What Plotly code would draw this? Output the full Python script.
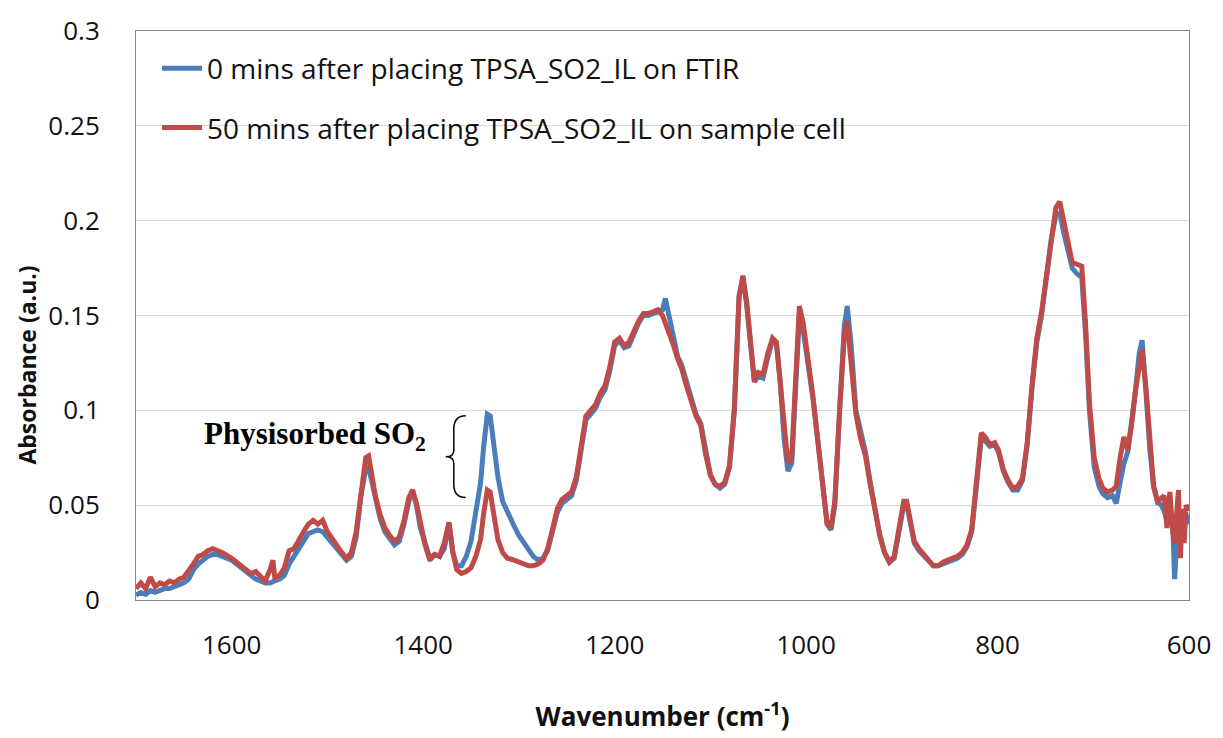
import plotly.graph_objects as go

wavenumber = [1700, 1695, 1690, 1685, 1680, 1675, 1670, 1665, 1660, 1655, 1650, 1645, 1640, 1635, 1630, 1625,
              1620, 1615, 1610, 1600, 1590, 1580, 1575, 1570, 1565, 1560, 1557, 1555, 1550, 1545, 1540, 1535,
              1530, 1525, 1520, 1515, 1510, 1505, 1500, 1495, 1490, 1485, 1480, 1475, 1470, 1465, 1460, 1457,
              1453, 1450, 1445, 1440, 1435, 1430, 1425, 1420, 1415, 1411, 1407, 1403, 1398, 1393, 1388, 1383,
              1378, 1373, 1369, 1365, 1360, 1355, 1350, 1345, 1340, 1337, 1333, 1330, 1327, 1322, 1317, 1312,
              1305, 1300, 1295, 1290, 1285, 1280, 1275, 1270, 1265, 1260, 1255, 1250, 1245, 1240, 1235, 1230,
              1225, 1220, 1215, 1210, 1205, 1200, 1195, 1190, 1185, 1180, 1175, 1170, 1165, 1160, 1155, 1150,
              1147, 1143, 1139, 1134, 1130, 1125, 1120, 1115, 1110, 1105, 1100, 1095, 1090, 1085, 1080, 1075,
              1070, 1066, 1062, 1058, 1054, 1050, 1045, 1040, 1035, 1031, 1027, 1023, 1019, 1015, 1011, 1007,
              1003, 998, 993, 988, 983, 978, 974, 970, 965, 960, 957, 953, 948, 943, 938, 933,
              928, 923, 918, 913, 908, 903, 898, 895, 891, 887, 882, 877, 872, 867, 862, 857,
              852, 847, 842, 837, 832, 827, 822, 817, 813, 808, 803, 799, 794, 789, 784, 779,
              774, 769, 764, 759, 754, 749, 744, 739, 735, 731, 726, 722, 717, 712, 708, 704,
              699, 694, 690, 685, 680, 676, 672, 668, 664, 660, 656, 652, 649, 645, 641, 637,
              633, 629, 626, 623, 620, 617, 615, 613, 611, 609, 607, 605, 603, 600]

absorbance_0min = [0.0026, 0.004, 0.003, 0.005, 0.004, 0.005, 0.006, 0.006, 0.007, 0.008, 0.009, 0.011, 0.016, 0.019, 0.021, 0.023,
                   0.024, 0.024, 0.023, 0.021, 0.017, 0.013, 0.011, 0.010, 0.009, 0.009, 0.010, 0.010, 0.011, 0.013, 0.019, 0.023,
                   0.027, 0.031, 0.035, 0.036, 0.037, 0.036, 0.033, 0.030, 0.026, 0.023, 0.021, 0.023, 0.033, 0.055, 0.069, 0.070,
                   0.060, 0.053, 0.043, 0.036, 0.032, 0.029, 0.031, 0.040, 0.052, 0.057, 0.050, 0.038, 0.030, 0.022, 0.024, 0.023,
                   0.027, 0.040, 0.025, 0.018, 0.018, 0.023, 0.031, 0.045, 0.062, 0.080, 0.098, 0.097, 0.085, 0.065, 0.052, 0.046,
                   0.039, 0.034, 0.030, 0.026, 0.023, 0.021, 0.022, 0.026, 0.035, 0.046, 0.051, 0.053, 0.055, 0.063, 0.080, 0.095,
                   0.098, 0.101, 0.107, 0.111, 0.121, 0.134, 0.137, 0.133, 0.134, 0.140, 0.146, 0.150, 0.150, 0.151, 0.152, 0.153,
                   0.159, 0.150, 0.138, 0.128, 0.124, 0.115, 0.105, 0.098, 0.093, 0.078, 0.066, 0.061, 0.059, 0.061, 0.070, 0.100,
                   0.160, 0.170, 0.155, 0.135, 0.115, 0.118, 0.117, 0.128, 0.137, 0.135, 0.115, 0.085, 0.068, 0.072, 0.115, 0.150,
                   0.142, 0.125, 0.107, 0.085, 0.060, 0.040, 0.037, 0.050, 0.100, 0.145, 0.155, 0.135, 0.100, 0.088, 0.078, 0.062,
                   0.047, 0.034, 0.025, 0.020, 0.022, 0.035, 0.050, 0.051, 0.040, 0.030, 0.026, 0.023, 0.020, 0.018, 0.018, 0.019,
                   0.020, 0.021, 0.022, 0.024, 0.028, 0.036, 0.060, 0.085, 0.084, 0.081, 0.082, 0.078, 0.068, 0.062, 0.058, 0.058,
                   0.063, 0.082, 0.112, 0.136, 0.150, 0.170, 0.190, 0.203, 0.204, 0.194, 0.183, 0.175, 0.172, 0.170, 0.140, 0.100,
                   0.070, 0.060, 0.056, 0.054, 0.055, 0.051, 0.062, 0.072, 0.078, 0.092, 0.110, 0.130, 0.137, 0.110, 0.080, 0.060,
                   0.052, 0.050, 0.047, 0.042, 0.048, 0.040, 0.011, 0.030, 0.040, 0.030, 0.045, 0.038, 0.045, 0.040]

absorbance_50min = [0.006, 0.009, 0.006, 0.012, 0.007, 0.009, 0.008, 0.010, 0.009, 0.011, 0.012, 0.015, 0.019, 0.023, 0.024, 0.026,
                    0.027, 0.026, 0.025, 0.022, 0.018, 0.014, 0.015, 0.012, 0.010, 0.016, 0.021, 0.012, 0.013, 0.017, 0.026, 0.027,
                    0.032, 0.036, 0.040, 0.042, 0.040, 0.042, 0.036, 0.032, 0.028, 0.025, 0.022, 0.025, 0.036, 0.058, 0.075, 0.076,
                    0.063, 0.055, 0.045, 0.038, 0.034, 0.031, 0.033, 0.042, 0.054, 0.058, 0.051, 0.040, 0.029, 0.021, 0.024, 0.023,
                    0.030, 0.041, 0.025, 0.016, 0.014, 0.015, 0.017, 0.023, 0.032, 0.045, 0.058, 0.057, 0.047, 0.032, 0.025, 0.022,
                    0.021, 0.020, 0.019, 0.018, 0.018, 0.019, 0.021, 0.027, 0.037, 0.048, 0.053, 0.055, 0.057, 0.065, 0.083, 0.097,
                    0.100, 0.103, 0.109, 0.113, 0.123, 0.136, 0.138, 0.134, 0.136, 0.142, 0.147, 0.151, 0.151, 0.152, 0.153, 0.150,
                    0.146, 0.141, 0.135, 0.127, 0.122, 0.113, 0.104, 0.097, 0.092, 0.077, 0.066, 0.061, 0.060, 0.062, 0.071, 0.100,
                    0.160, 0.171, 0.157, 0.136, 0.115, 0.120, 0.119, 0.130, 0.138, 0.136, 0.115, 0.088, 0.072, 0.075, 0.120, 0.155,
                    0.146, 0.128, 0.108, 0.085, 0.060, 0.040, 0.038, 0.052, 0.100, 0.140, 0.147, 0.125, 0.098, 0.085, 0.076, 0.061,
                    0.046, 0.034, 0.025, 0.020, 0.023, 0.037, 0.052, 0.052, 0.042, 0.031, 0.027, 0.024, 0.020, 0.018, 0.018, 0.020,
                    0.021, 0.022, 0.023, 0.025, 0.029, 0.037, 0.062, 0.088, 0.086, 0.082, 0.083, 0.079, 0.069, 0.063, 0.059, 0.060,
                    0.064, 0.083, 0.113, 0.138, 0.152, 0.171, 0.192, 0.207, 0.210, 0.200, 0.188, 0.178, 0.177, 0.176, 0.145, 0.104,
                    0.075, 0.064, 0.059, 0.057, 0.058, 0.060, 0.075, 0.086, 0.079, 0.092, 0.110, 0.125, 0.132, 0.112, 0.085, 0.060,
                    0.052, 0.054, 0.055, 0.038, 0.057, 0.036, 0.030, 0.045, 0.058, 0.022, 0.048, 0.030, 0.050, 0.047]

series_names = ["0 mins after placing TPSA_SO2_IL on FTIR",
                "50 mins after placing TPSA_SO2_IL on sample cell"]
series_colors = ["#4A7EBB", "#BE4B48"]
x_ticks = [1600, 1400, 1200, 1000, 800, 600]
y_ticks = [0, 0.05, 0.1, 0.15, 0.2, 0.25, 0.3]
y_tick_text = ["0", "0.05", "0.1", "0.15", "0.2", "0.25", "0.3"]

FONT = "Open Sans"

fig = go.Figure()
for name, ys, col in zip(series_names, [absorbance_0min, absorbance_50min], series_colors):
    fig.add_trace(go.Scatter(x=wavenumber, y=ys, mode="lines", name=name, legendgroup=name,
                             line=dict(color=col, width=5)))

fig.update_layout(
    width=1223, height=738,
    margin=dict(l=136, r=30, t=30, b=135),
    paper_bgcolor="white", plot_bgcolor="white",
    font=dict(family=FONT, size=26, color="#111111"),
    showlegend=True,
    legend=dict(x=0.02, y=0.978, xanchor="left", yanchor="top", bgcolor="rgba(255,255,255,0)",
                font=dict(family=FONT, size=28), tracegroupgap=20, itemwidth=40),
    xaxis=dict(range=[1700, 600], tickvals=x_ticks, ticks="", showgrid=False,
               showline=True, linecolor="#868686", linewidth=1, mirror=True,
               ticklabelstandoff=22, zeroline=False, tickfont=dict(size=26),
               title=dict(text="<b>Wavenumber (cm<sup>-1</sup>)</b>", font=dict(family=FONT, size=26), standoff=46)),
    yaxis=dict(range=[0, 0.3], tickvals=y_ticks, ticktext=y_tick_text, ticks="",
               showgrid=True, gridcolor="#D9D9D9", gridwidth=1, zeroline=False,
               showline=True, linecolor="#868686", linewidth=1, mirror=True,
               ticklabelstandoff=30, tickfont=dict(size=26)),
)

fig.add_annotation(x=0, xref="paper", xshift=-109, y=0.412, yref="paper",
                   text="<b>Absorbance (a.u.)</b>", textangle=-90, showarrow=False,
                   xanchor="center", yanchor="middle",
                   font=dict(family=FONT, size=23, color="#111111"))

fig.add_annotation(x=1395, y=0.0865, xref="x", yref="y", xanchor="right", yanchor="middle",
                   text="<b>Physisorbed SO<sub>2</sub></b>", showarrow=False,
                   font=dict(family="Liberation Serif", size=31, color="#000000"))

fig.add_shape(type="path", xref="x", yref="y",
              path="M 1355.6,0.0971 Q 1368,0.0971 1368,0.090 L 1368,0.079 Q 1368,0.0755 1376.4,0.0755 "
                   "Q 1368,0.0755 1368,0.072 L 1368,0.061 Q 1368,0.054 1355.6,0.054",
              line=dict(color="#000000", width=1.5))

fig.write_html("out.html")
